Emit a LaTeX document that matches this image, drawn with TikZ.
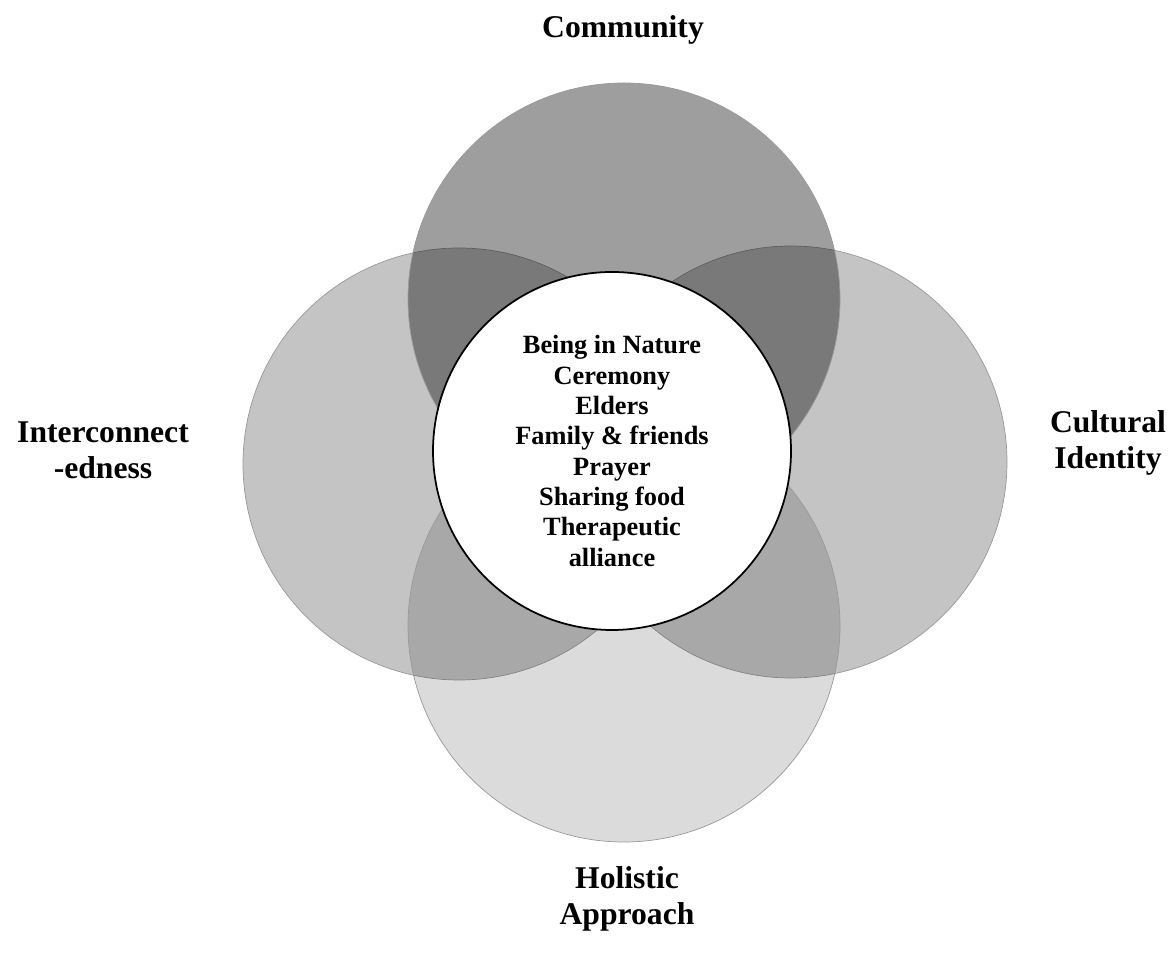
\documentclass[tikz,border=0pt]{standalone}
\usepackage{fontspec}
\setmainfont{Liberation Serif}
\usetikzlibrary{positioning}

\tikzset{
	themeCircle/.style={circle, draw=black!40, line width=0.4pt, fill=black, minimum size=8.64cm, inner sep=0pt},
	themeLabel/.style={align=center, font=\fontsize{18}{20.5}\selectfont\bfseries},
}

\begin{document}
\begin{tikzpicture}
	\useasboundingbox (0,0) rectangle (23.48,19.18);

	\node[themeCircle, fill opacity=0.23](interCircle)    at (9.18,9.90){};
	\node[themeCircle, fill opacity=0.23](culturalCircle) at (15.82,9.94){};
	\node[themeCircle, fill opacity=0.14](holisticCircle) at (12.48,6.66){};
	\node[themeCircle, fill opacity=0.38](communityCircle) at (12.48,13.20){};

	\node[circle, fill=white, draw=black, line width=1pt, minimum size=7.16cm, inner sep=0pt, align=center, font=\fontsize{15}{17.25}\selectfont\bfseries](coreCircle) at (12.24,10.16){Being in Nature\\Ceremony\\Elders\\Family \& friends\\Prayer\\Sharing food\\Therapeutic\\alliance};

	\node[themeLabel](communityLabel) at (12.46,18.58){Community};
	\node[themeLabel](interLabel)     at (2.06,10.18){Interconnect\\-edness};
	\node[themeLabel](culturalLabel)  at (22.16,10.32){Cultural\\Identity};
	\node[themeLabel](holisticLabel)  at (12.54,1.20){Holistic\\Approach};
\end{tikzpicture}
\end{document}
